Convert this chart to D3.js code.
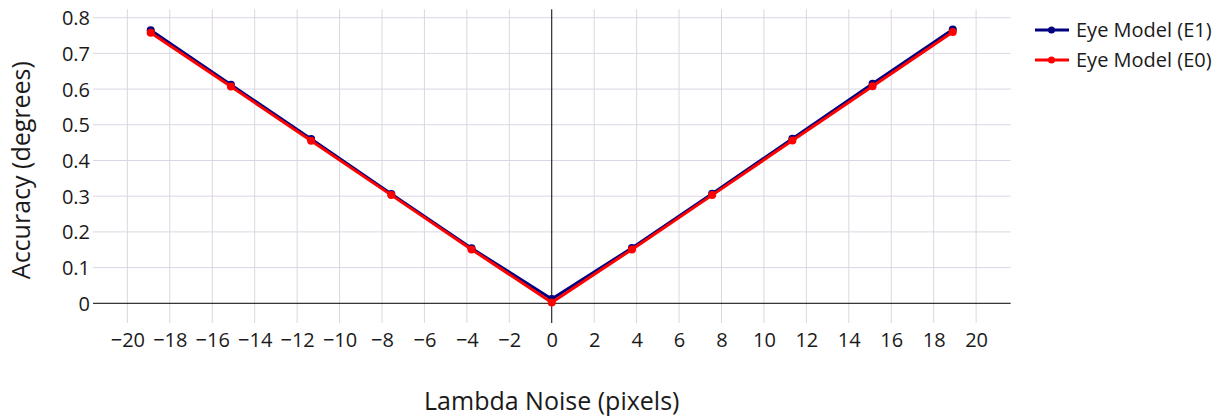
<!DOCTYPE html>
<html>
<head>
<meta charset="utf-8">
<script src="https://cdn.jsdelivr.net/npm/d3@7"></script>
<style>
  html, body { margin: 0; padding: 0; background: #fff; }
  svg { display: block; font-family: "Open Sans", sans-serif; }
</style>
</head>
<body>
<svg id="chart" width="1232" height="417"></svg>
<script>
const noise = [-18.9, -15.12, -11.34, -7.56, -3.78, 0, 3.78, 7.56, 11.34, 15.12, 18.9];
const e1 = [0.765, 0.612, 0.460, 0.306, 0.154, 0.012, 0.155, 0.307, 0.461, 0.615, 0.767];
const e0 = [0.758, 0.607, 0.455, 0.303, 0.151, 0.002, 0.151, 0.303, 0.456, 0.608, 0.760];
const seriesNames = ["Eye Model (E1)", "Eye Model (E0)"];
const seriesColors = ["#000080", "#ff0000"];
const xTicks = [-20, -18, -16, -14, -12, -10, -8, -6, -4, -2, 0, 2, 4, 6, 8, 10, 12, 14, 16, 18, 20];
const yTicks = [0, 0.1, 0.2, 0.3, 0.4, 0.5, 0.6, 0.7, 0.8];

const svg = d3.select("#chart");
const pLeft = 93, pRight = 1010.7, pTop = 9.3, pBottom = 323;
const x = d3.scaleLinear().domain([-21.62, 21.63]).range([pLeft, pRight]);
const y = d3.scaleLinear().domain([-0.0552, 0.8235]).range([pBottom, pTop]);
const grid = "#dcd6e4";
const textColor = "#1a1a1a";

// grid
svg.append("g").selectAll("line").data(xTicks.filter(d => d !== 0)).join("line")
  .attr("x1", d => x(d)).attr("x2", d => x(d)).attr("y1", pTop).attr("y2", pBottom)
  .attr("stroke", grid).attr("stroke-width", 1);
svg.append("g").selectAll("line").data(yTicks.filter(d => d !== 0)).join("line")
  .attr("x1", pLeft).attr("x2", pRight).attr("y1", d => y(d)).attr("y2", d => y(d))
  .attr("stroke", grid).attr("stroke-width", 1);

// zero lines
svg.append("line").attr("x1", x(0)).attr("x2", x(0)).attr("y1", pTop).attr("y2", pBottom)
  .attr("stroke", "#000").attr("stroke-width", 1);
svg.append("line").attr("x1", pLeft).attr("x2", pRight).attr("y1", y(0)).attr("y2", y(0))
  .attr("stroke", "#000").attr("stroke-width", 1);

// axes labels
const xAxis = d3.axisBottom(x).tickValues(xTicks).tickSize(0).tickPadding(0)
  .tickFormat(d => d < 0 ? "\u2212" + Math.abs(d) : String(d));
const gx = svg.append("g").attr("transform", `translate(0,${pBottom})`).call(xAxis);
gx.select(".domain").remove();
gx.selectAll("text").attr("dy", null).attr("y", 24).attr("font-size", 20)
  .attr("font-family", "Open Sans").attr("fill", textColor);

const yAxis = d3.axisLeft(y).tickValues(yTicks).tickSize(0).tickPadding(0)
  .tickFormat(d => d === 0 ? "0" : d3.format(".1f")(d));
const gy = svg.append("g").attr("transform", `translate(${pLeft - 3},0)`).call(yAxis);
gy.select(".domain").remove();
gy.selectAll("text").attr("dy", "0.35em").attr("x", 0).attr("font-size", 20)
  .attr("font-family", "Open Sans").attr("fill", textColor);

// titles
svg.append("text").attr("x", x(0)).attr("y", 410).attr("text-anchor", "middle")
  .attr("font-size", 25).attr("fill", textColor).text("Lambda Noise (pixels)");
svg.append("text").attr("transform", `translate(30,${(pTop + pBottom) / 2 + 4}) rotate(-90)`)
  .attr("text-anchor", "middle").attr("font-size", 25).attr("fill", textColor).text("Accuracy (degrees)");

// series
const seriesVals = [e1, e0];
const line = d3.line().x(d => x(d[0])).y(d => y(d[1]));
seriesVals.forEach((vals, i) => {
  const pts = noise.map((n, j) => [n, vals[j]]);
  const g = svg.append("g");
  g.append("path").datum(pts).attr("d", line).attr("fill", "none")
    .attr("stroke", seriesColors[i]).attr("stroke-width", 3).attr("stroke-linejoin", "round");
  g.selectAll("circle").data(pts).join("circle")
    .attr("cx", d => x(d[0])).attr("cy", d => y(d[1])).attr("r", 4)
    .attr("fill", seriesColors[i]);
});

// legend
const lg = svg.append("g");
seriesNames.forEach((name, i) => {
  const ly = 30 + i * 30;
  lg.append("line").attr("x1", 1035).attr("x2", 1069).attr("y1", ly).attr("y2", ly)
    .attr("stroke", seriesColors[i]).attr("stroke-width", 3);
  lg.append("circle").attr("cx", 1051.5).attr("cy", ly).attr("r", 3.5).attr("fill", seriesColors[i]);
  lg.append("text").attr("x", 1076).attr("y", ly).attr("dy", "0.35em")
    .attr("font-size", 20).attr("fill", textColor).text(name);
});
</script>
</body>
</html>
